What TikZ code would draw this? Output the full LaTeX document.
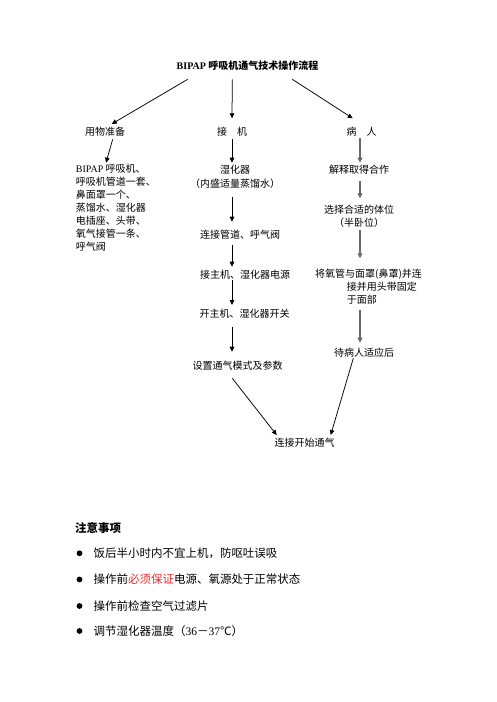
\documentclass[tikz,border=0pt]{standalone}
\usepackage{fontspec}
\setmainfont{Liberation Serif}
\newfontfamily\cjk{Noto Sans CJK SC}
\usetikzlibrary{arrows.meta}
\definecolor{arrgray}{RGB}{105,105,105}
\definecolor{notered}{RGB}{255,40,40}
\newcommand\lat[1]{{\rmfamily #1}}
\begin{document}
\begin{tikzpicture}[x=1pt,y=-1pt,
  txt/.style={font=\cjk\fontsize{10}{13}\selectfont, inner sep=0pt},
  note/.style={font=\cjk\fontsize{11.5}{14}\selectfont, inner sep=0pt, anchor=west},
  dot/.style={circle, fill=black, minimum size=5.8pt, inner sep=0pt},
  arr/.style={-{Triangle[length=5pt,width=4.6pt]}, line width=0.75pt, draw=black},
  garr/.style={-{Triangle[length=5pt,width=4.8pt]}, line width=1.1pt, draw=arrgray}]
\useasboundingbox (0,0) rectangle (496,702);

% title
\node[txt, font=\cjk\bfseries\fontsize{10}{13}\selectfont] (title) at (247.5,66) {\lat{BIPAP} 呼吸机通气技术操作流程};

% level 1
\node[txt] (yongwu) at (105,131.7) {用物准备};
\node[txt] (jieji) at (232,131.7) {接　机};
\node[txt] (bingren) at (361.7,131.7) {病　人};

% left column
\node[txt, align=left, anchor=north west] (list) at (75.7,164.3)
  {\lat{BIPAP} 呼吸机、\\呼吸机管道一套、\\鼻面罩一个、\\蒸馏水、湿化器\\电插座、头带、\\氧气接管一条、\\呼气阀};

% middle column
\node[txt, align=center, font=\cjk\fontsize{10}{14}\selectfont] (shihua) at (235,177) {湿化器\\（内盛适量蒸馏水）};
\node[txt] (lianjie) at (240,235) {连接管道、呼气阀};
\node[txt] (jiezhuji) at (245,275) {接主机、湿化器电源};
\node[txt] (kaizhuji) at (244.5,314) {开主机、湿化器开关};
\node[txt] (shezhi) at (237.5,366) {设置通气模式及参数};
\node[txt] (kaishi) at (304.5,442.7) {连接开始通气};

% right column
\node[txt] (jieshi) at (359,170) {解释取得合作};
\node[txt, align=center, font=\cjk\fontsize{10}{13.4}\selectfont] (xuanze) at (359,216) {选择合适的体位\\（半卧位）};
\node[txt, align=left, anchor=north west] (jiang) at (315,269)
  {将氧管与面罩(鼻罩)并连\\\hspace*{31.7pt}接并用头带固定\\\hspace*{31.7pt}于面部};
\node[txt] (daibing) at (364,352.7) {待病人适应后};

% arrows from title
\draw[arr] ([shift={(-59.8,13.3)}]title.center) -- ([shift={(6.7,-7.7)}]yongwu.center);
\draw[arr] ([shift={(-15.2,13.3)}]title.center) -- ([shift={(0,-13.4)}]jieji.center);
\draw[arr] ([shift={(44.8,13.3)}]title.center) -- ([shift={(-9,-13.4)}]bingren.center);

% left
\draw[arr] ([shift={(7.7,7.6)}]yongwu.center) -- ([shift={(30.3,-1.6)}]list.north west);

% middle
\draw[arr] ([shift={(0,7.6)}]jieji.center) -- ([shift={(-3,-14.3)}]shihua.center);
\draw[arr] ([shift={(-3,19.7)}]shihua.center) -- ([shift={(-8,-13.3)}]lianjie.center);
\draw[arr] ([shift={(-8,10)}]lianjie.center) -- ([shift={(-13,-8.3)}]jiezhuji.center);
\draw[arr] ([shift={(-13,5)}]jiezhuji.center) -- ([shift={(-12.5,-9)}]kaizhuji.center);
\draw[arr] ([shift={(-12.5,12.7)}]kaizhuji.center) -- ([shift={(-5.5,-14.3)}]shezhi.center);
\draw[arr] ([shift={(-5.2,12.3)}]shezhi.center) -- ([shift={(-27.8,-7.7)}]kaishi.center);

% right
\draw[garr] ([shift={(-1.7,6.3)}]bingren.center) -- ([shift={(1,-7.3)}]jieshi.center);
\draw[garr] ([shift={(1,10.7)}]jieshi.center) -- ([shift={(1,-17.7)}]xuanze.center);
\draw[garr] ([shift={(1,14)}]xuanze.center) -- ([shift={(45,-10.7)}]jiang.north west);
\draw[garr] ([shift={(45,41)}]jiang.north west) -- ([shift={(-4,-10)}]daibing.center);
\draw[arr] ([shift={(-10.7,5.6)}]daibing.center) -- ([shift={(26.2,-7.7)}]kaishi.center);

% notes
\node[note, font=\cjk\bfseries\fontsize{11.5}{14}\selectfont] (zhuyi) at (75,528.3) {注意事项};
\node[dot] (b1) at (79.5,553.3) {};
\node[dot] (b2) at (79.5,579.5) {};
\node[dot] (b3) at (79.5,606) {};
\node[dot] (b4) at (79.5,631) {};
\node[note] (n1) at (93.3,553.3) {饭后半小时内不宜上机，防呕吐误吸};
\node[note] (n2) at (93.3,579.5) {操作前\textcolor{notered}{必须保证}电源、氧源处于正常状态};
\node[note] (n3) at (93.3,606) {操作前检查空气过滤片};
\node[note] (n4) at (93.3,631) {调节湿化器温度（\lat{36}－\lat{37}℃）};
\end{tikzpicture}
\end{document}
